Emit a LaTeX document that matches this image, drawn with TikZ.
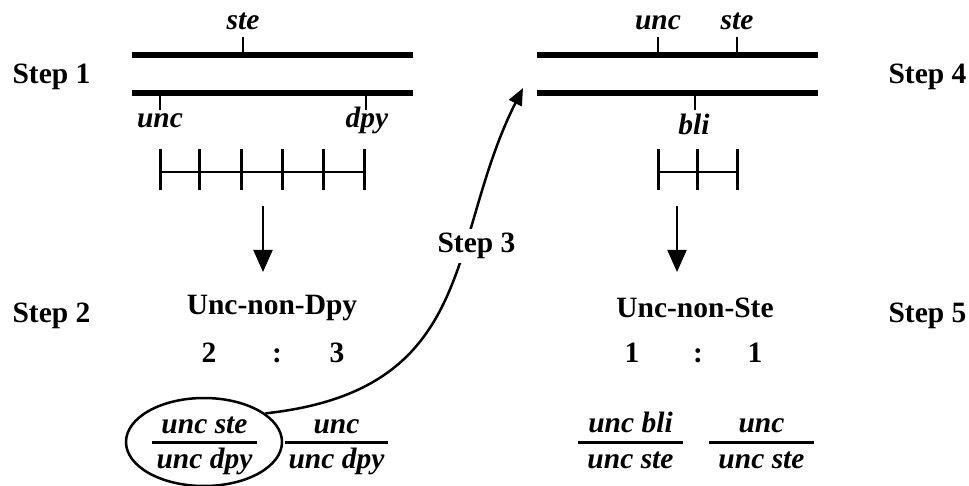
\documentclass[tikz,border=0pt]{standalone}
\usepackage{fontspec}
\setmainfont{Liberation Serif}
\usetikzlibrary{arrows.meta,shapes.geometric}
\begin{document}
\begin{tikzpicture}[x=1pt,y=-1pt,
  lbl/.style={font=\bfseries\fontsize{29.5}{32}\selectfont, anchor=base, inner sep=0pt},
  gene/.style={font=\bfseries\itshape\fontsize{29.5}{32}\selectfont, anchor=base, inner sep=0pt},
  chrom/.style={line width=6pt},
  gtick/.style={line width=2pt},
  rulerline/.style={line width=2.2pt},
  rtick/.style={line width=3pt},
  fbar/.style={line width=3pt},
  arr/.style={line width=2pt, -{Triangle[length=22pt,width=19pt]}},
  carr/.style={line width=2.5pt, -{Triangle[length=17pt,width=14pt]}}]
\useasboundingbox (0,0) rectangle (969,486);

% Step labels
\node[lbl] (s1) at (51.5,84) {Step 1};
\node[lbl] (s2) at (51.5,323) {Step 2};
\node[lbl] (s4) at (927.5,84) {Step 4};
\node[lbl] (s5) at (927.5,323) {Step 5};

% Left chromosomes
\draw[chrom] (132,55) -- (413,55);
\draw[chrom] (132,93) -- (413,93);
\draw[gtick] (243,37) -- (243,52);
\draw[gtick] (160,96) -- (160,110);
\draw[gtick] (366,96) -- (366,110);
\node[gene] (steL) at (243,30) {ste};
\node[gene] (uncL) at (160,128) {unc};
\node[gene] (dpyL) at (367,128) {dpy};

% Left ruler
\draw[rulerline] (160,172) -- (364,172);
\foreach \x in {160,199,241,282,323,364} \draw[rtick] (\x,149) -- (\x,190);

% Right chromosomes
\draw[chrom] (537,55) -- (818,55);
\draw[chrom] (537,93) -- (818,93);
\draw[gtick] (658,37) -- (658,52);
\draw[gtick] (737,37) -- (737,52);
\draw[gtick] (695,96) -- (695,110);
\node[gene] (uncR) at (658,30) {unc};
\node[gene] (steR) at (737,30) {ste};
\node[gene] (bliR) at (694,135) {bli};

% Right ruler
\draw[rulerline] (658,172) -- (737,172);
\foreach \x in {658,697,737} \draw[rtick] (\x,149) -- (\x,190);

% Down arrows
\coordinate (a1s) at (263,206);
\coordinate (a1e) at (263,272);
\draw[arr] (a1s) -- (a1e);
\coordinate (a2s) at (677,206);
\coordinate (a2e) at (677,272);
\draw[arr] (a2s) -- (a2e);

% Phenotypes
\node[lbl] (phL) at (272,315) {Unc-non-Dpy};
\node[lbl] (n2) at (209,362) {2};
\node[lbl] (c1) at (277,362) {:};
\node[lbl] (n3) at (337,362) {3};
\node[lbl] (phR) at (695,318) {Unc-non-Ste};
\node[lbl] (n1a) at (632,362) {1};
\node[lbl] (c2) at (698,362) {:};
\node[lbl] (n1b) at (755,362) {1};

% Left genotypes
\node[draw, ellipse, line width=2.5pt, minimum width=156pt, minimum height=88pt, inner sep=0pt] (el) at (204,442) {};
\draw[fbar] (152,442) -- (257,442);
\node[gene] (f1n) at (204.5,433) {unc ste};
\node[gene] (f1d) at (204.5,468) {unc dpy};
\draw[fbar] (285,442) -- (388,442);
\node[gene] (f2n) at (336.5,433) {unc};
\node[gene] (f2d) at (336.5,468) {unc dpy};

% Right genotypes
\draw[fbar] (578,442) -- (683,442);
\node[gene] (f3n) at (630.5,432) {unc bli};
\node[gene] (f3d) at (630.5,468) {unc ste};
\draw[fbar] (709,442) -- (814,442);
\node[gene] (f4n) at (761.5,432) {unc};
\node[gene] (f4d) at (761.5,468) {unc ste};

% Step 3 curved arrow
\coordinate (c3end) at (523,88);
\draw[carr] (el.25) .. controls (480,390) and (446.5,239.3) .. (c3end);
\node[lbl, fill=white, inner sep=4pt] (s3) at (476.5,253) {Step 3};
\end{tikzpicture}
\end{document}
